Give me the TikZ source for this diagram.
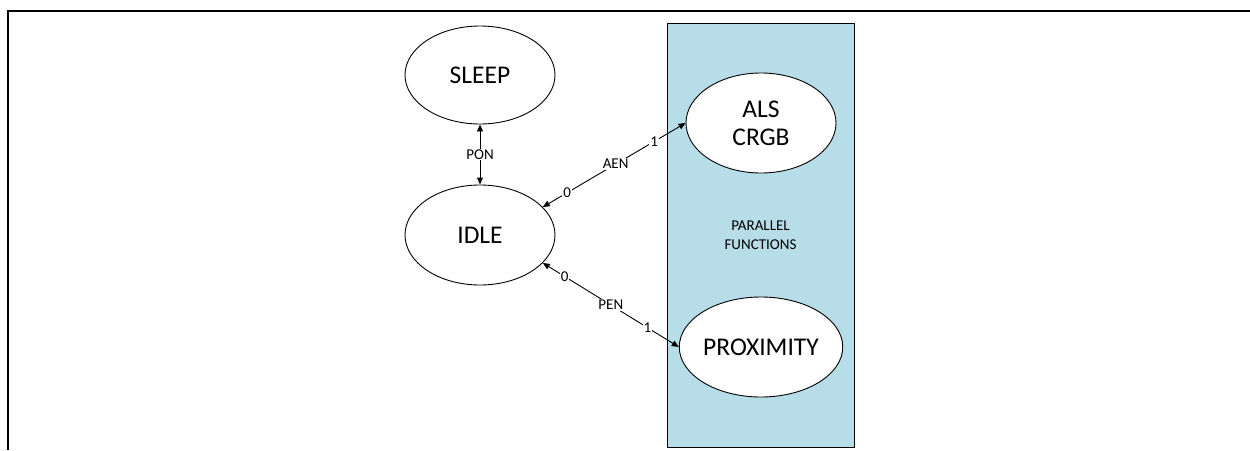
\documentclass[tikz,border=0pt]{standalone}
\usepackage{fontspec}
\setmainfont{Carlito}
\usetikzlibrary{arrows.meta,shapes.geometric}
\definecolor{boxblue}{HTML}{B7DDE8}
\tikzset{
  state/.style={draw, ellipse, line width=0.9pt, fill=white, inner sep=0pt,
    minimum width=150pt, minimum height=98pt, align=center,
    font=\fontsize{25.5}{30}\selectfont},
  conn/.style={line width=0.9pt, {Triangle[length=7pt,width=6pt]}-{Triangle[length=7pt,width=6pt]}},
  lbl/.style={fill=white, inner sep=1pt, font=\fontsize{15}{18}\selectfont},
  panel/.style={draw, line width=0.9pt, fill=boxblue, minimum width=187pt,
    minimum height=424pt, align=center, font=\fontsize{15}{19}\selectfont}
}
\begin{document}
\begin{tikzpicture}[x=1pt,y=-1pt]
\useasboundingbox (0,0) rectangle (1250,450);
\draw[line width=2pt] (8,450) -- (8,11) -- (1250,11);
\node[panel] (par) at (760.5,235) {PARALLEL\\FUNCTIONS};
\node[state] (sleep) at (480,75) {SLEEP};
\node[state, minimum height=100pt] (idle) at (480,235) {IDLE};
\node[state, minimum height=100pt] (als) at (761,123) {ALS\\[-2pt]CRGB};
\node[state, minimum height=100pt] (prox) at (761,347) {PROXIMITY};
\draw[conn] (sleep) -- node[lbl] {PON} (idle);
\draw[conn] (idle.24) --
  node[lbl, pos=0.17] {0}
  node[lbl, pos=0.51] {AEN}
  node[lbl, pos=0.78] {1}
  (als.west);
\draw[conn] (idle.-24) --
  node[lbl, pos=0.16] {0}
  node[lbl, pos=0.50] {PEN}
  node[lbl, pos=0.77] {1}
  (prox.west);
\end{tikzpicture}
\end{document}
